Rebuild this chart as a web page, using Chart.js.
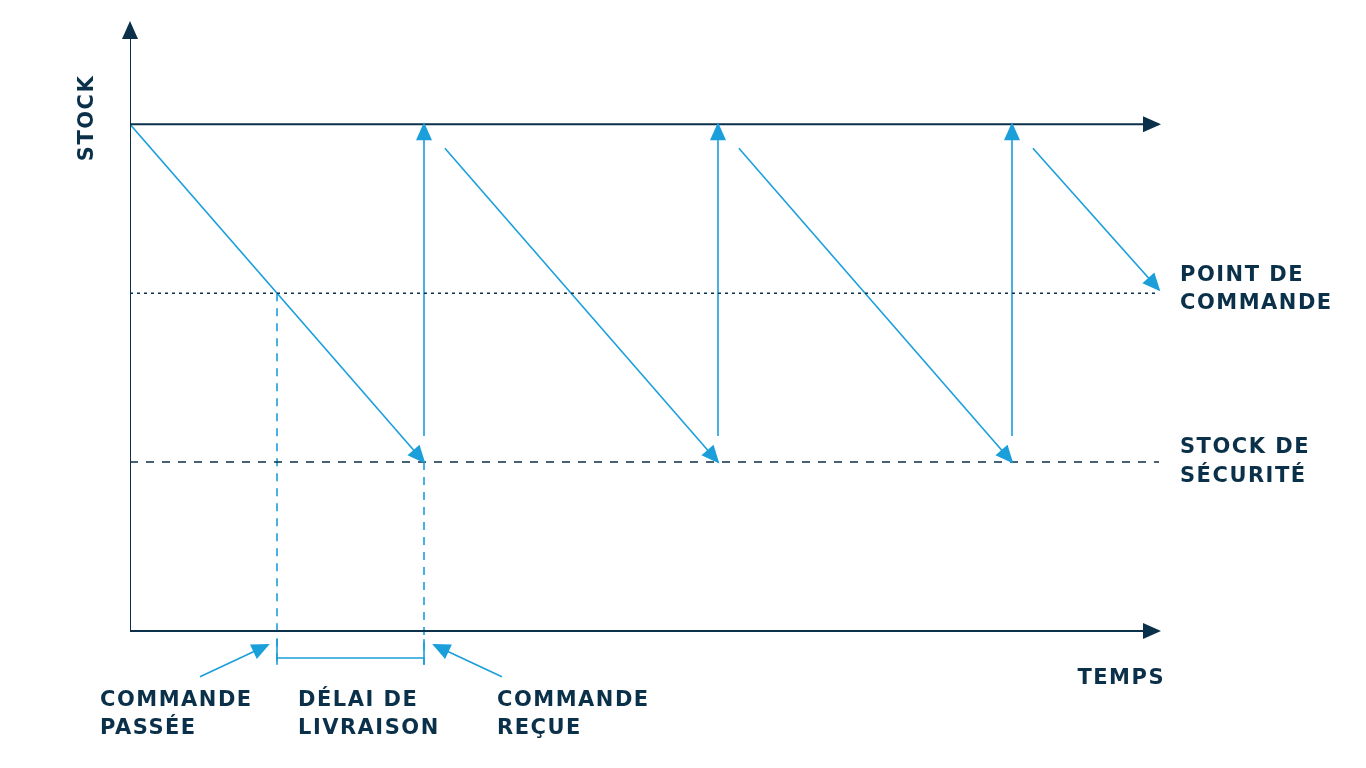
<!DOCTYPE html>
<html>
<head>
<meta charset="utf-8">
<script src="https://cdn.jsdelivr.net/npm/chart.js@4"></script>
<style>
  html, body { margin: 0; padding: 0; background: #fff; }
  #wrap { width: 1366px; height: 768px; }
</style>
</head>
<body>
<div id="wrap"><canvas id="myChart"></canvas></div>
<script>
// time in cycles (one cycle = order to order), stock in levels (1 = safety stock, 2 = reorder point, 3 = max)
var xMax = 3.5;
var stockMax = 3;
var pointCommande = 2;
var stockSecurite = 1;
var descentes = [
    [{ x: 0, y: 3 }, { x: 1, y: 1 }],
    [{ x: 1.071, y: 2.858 }, { x: 2, y: 1 }],
    [{ x: 2.071, y: 2.858 }, { x: 3, y: 1 }],
    [{ x: 3.071, y: 2.858 }, { x: 3.5, y: 2.02 }]
];
var livraisons = [1, 2, 3];
var basLivraison = 1.154;
var tCommande = 0.5;
var tReception = 1;

var bleu = '#1a9fdb';
var fonce = '#0b3049';

var datasets = [];
function ligne(pts, color, opts) {
    var d = {
        data: pts, borderColor: color, borderWidth: 1.6, pointRadius: 0,
        showLine: true, fill: false, tension: 0
    };
    for (var k in opts) d[k] = opts[k];
    datasets.push(d);
}

// axes
ligne([{ x: 0, y: 0 }, { x: xMax, y: 0 }], fonce, { fleche: true, borderWidth: 2 });
ligne([{ x: 0, y: 0 }, { x: 0, y: 3.6 }], fonce, { fleche: true, borderWidth: 2 });
ligne([{ x: 0, y: stockMax }, { x: xMax, y: stockMax }], fonce, { fleche: true, borderWidth: 2 });
// niveaux
ligne([{ x: 0, y: pointCommande }, { x: xMax, y: pointCommande }], fonce, { borderDash: [3, 4] });
ligne([{ x: 0, y: stockSecurite }, { x: xMax, y: stockSecurite }], fonce, { borderDash: [8, 8] });
// sawtooth
for (var i = 0; i < descentes.length; i++) ligne(descentes[i], bleu, { fleche: true });
for (var i = 0; i < livraisons.length; i++)
    ligne([{ x: livraisons[i], y: basLivraison }, { x: livraisons[i], y: stockMax }], bleu, { fleche: true });
// délai de livraison
ligne([{ x: tCommande, y: pointCommande }, { x: tCommande, y: -0.2 }], bleu, { borderDash: [8, 7] });
ligne([{ x: tReception, y: stockSecurite }, { x: tReception, y: -0.2 }], bleu, { borderDash: [8, 7] });
ligne([{ x: tCommande, y: -0.05 }, { x: tCommande, y: -0.2 }], bleu, {});
ligne([{ x: tReception, y: -0.05 }, { x: tReception, y: -0.2 }], bleu, {});
ligne([{ x: tCommande, y: -0.16 }, { x: tReception, y: -0.16 }], bleu, {});
ligne([{ x: 0.238, y: -0.272 }, { x: 0.469, y: -0.083 }], bleu, { fleche: true });
ligne([{ x: 1.265, y: -0.272 }, { x: 1.034, y: -0.083 }], bleu, { fleche: true });

var fleches = {
    id: 'fleches',
    afterDatasetsDraw: function (chart) {
        var ctx = chart.ctx;
        var sx = chart.scales.x, sy = chart.scales.y;
        chart.data.datasets.forEach(function (d) {
            if (!d.fleche) return;
            var n = d.data.length;
            var a = d.data[n - 2], b = d.data[n - 1];
            var x1 = sx.getPixelForValue(a.x), y1 = sy.getPixelForValue(a.y);
            var x2 = sx.getPixelForValue(b.x), y2 = sy.getPixelForValue(b.y);
            var ang = Math.atan2(y2 - y1, x2 - x1);
            ctx.save();
            ctx.translate(x2, y2);
            ctx.rotate(ang);
            ctx.fillStyle = d.borderColor;
            ctx.beginPath();
            ctx.moveTo(2, 0);
            ctx.lineTo(-16, -8);
            ctx.lineTo(-16, 8);
            ctx.closePath();
            ctx.fill();
            ctx.restore();
        });
        ctx.save();
        ctx.fillStyle = fonce;
        ctx.font = 'bold 21px "DejaVu Sans"';
        ctx.letterSpacing = '1.5px';
        ctx.textBaseline = 'middle';
        var textes = [
            ['POINT DE', 1180, 276], ['COMMANDE', 1180, 304],
            ['STOCK DE', 1180, 448], ['SÉCURITÉ', 1180, 477],
            ['COMMANDE', 100, 701], ['PASSÉE', 100, 729],
            ['DÉLAI DE', 298, 701], ['LIVRAISON', 298, 729],
            ['COMMANDE', 497, 701], ['REÇUE', 497, 729]
        ];
        textes.forEach(function (t) { ctx.fillText(t[0], t[1], t[2]); });
        ctx.textAlign = 'right';
        ctx.fillText('TEMPS', 1165, 679);
        ctx.translate(88, 118);
        ctx.rotate(-Math.PI / 2);
        ctx.textAlign = 'center';
        ctx.fillText('STOCK', 0, 0);
        ctx.restore();
    }
};

new Chart(document.getElementById('myChart'), {
    type: 'line',
    data: { datasets: datasets },
    options: {
        responsive: true,
        maintainAspectRatio: false,
        animation: false,
        layout: { padding: { left: 130, right: 207, top: 23, bottom: 2 } },
        plugins: { legend: { display: false }, tooltip: { enabled: false } },
        scales: {
            x: { type: 'linear', min: 0, max: xMax, display: false },
            y: { type: 'linear', min: -0.8, max: 3.6, display: false }
        }
    },
    plugins: [fleches]
});
</script>
</body>
</html>
